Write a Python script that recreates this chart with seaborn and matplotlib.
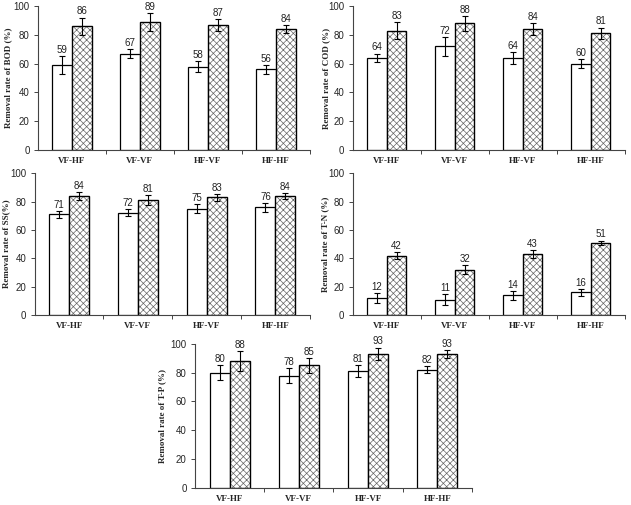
import numpy as np
import pandas as pd
import matplotlib
matplotlib.use("Agg")
import matplotlib.pyplot as plt
from matplotlib.patches import Rectangle
from matplotlib.transforms import blended_transform_factory
import seaborn as sns

# === DATA ===
configs = ["VF-HF", "VF-VF", "HF-VF", "HF-HF"]
series = ["Series A", "Series B"]

bod_a = [59, 67, 58, 56]
bod_b = [86, 89, 87, 84]
bod_a_err = [6, 3, 3.5, 3]
bod_b_err = [6, 6, 4, 3]

cod_a = [64, 72, 64, 60]
cod_b = [83, 88, 84, 81]
cod_a_err = [3, 6.5, 4, 3]
cod_b_err = [6, 5, 4, 4]

ss_a = [71, 72, 75, 76]
ss_b = [84, 81, 83, 84]
ss_a_err = [2.5, 2.5, 3, 3]
ss_b_err = [3, 3.5, 2.5, 2]

tn_a = [12, 11, 14, 16]
tn_b = [42, 32, 43, 51]
tn_a_err = [3.5, 4, 3, 2.5]
tn_b_err = [2.5, 3, 3, 1.5]

tp_a = [80, 78, 81, 82]
tp_b = [88, 85, 93, 93]
tp_a_err = [5, 5, 4, 2.5]
tp_b_err = [7, 5, 4.5, 3]

ylabels = ["Removal rate of BOD (%)", "Removal rate of COD (%)",
           "Removal rate of SS(%)", "Removal rate of T-N (%)",
           "Removal rate of T-P (%)"]

# === STYLE ===
sns.set_style("ticks")
plt.rcParams["hatch.linewidth"] = 0.5
SERIF = "Liberation Serif"
SANS = "Liberation Sans"


def draw(fig, ax, a, b, ea, eb, ylabel, label_x):
    df = pd.DataFrame({
        "config": configs * 2,
        "series": [series[0]] * 4 + [series[1]] * 4,
        "rate": a + b,
    })
    sns.barplot(data=df, x="config", y="rate", hue="series", order=configs,
                hue_order=series, palette=["white", "white"], edgecolor="black",
                linewidth=0.9, width=0.58, errorbar=None, legend=False,
                saturation=1, ax=ax)
    # hatched bars: grey cross-hatch, black outline drawn on top
    for bar in ax.containers[1]:
        bar.set_hatch("xxxxx")
        bar.set_edgecolor("#666666")
        ax.add_patch(Rectangle(bar.get_xy(), bar.get_width(), bar.get_height(),
                               fill=False, edgecolor="black", linewidth=0.9, zorder=bar.get_zorder()))
    for cont, vals, errs in zip(ax.containers, [a, b], [ea, eb]):
        xs = [p.get_x() + p.get_width() / 2 for p in cont]
        ax.errorbar(xs, vals, yerr=errs, fmt="none", ecolor="black",
                    elinewidth=0.8, capsize=2.2, capthick=0.8, zorder=5)
        for x, v, e in zip(xs, vals, errs):
            ax.text(x, v + e + 0.8, f"{v}", ha="center", va="bottom",
                    fontsize=7, family=SANS, color="#222222")

    ax.set_ylim(0, 100)
    ax.set_xlim(-0.5, 3.5)
    ax.set_yticks(range(0, 101, 20))
    ax.set_yticklabels([str(t) for t in range(0, 101, 20)], fontsize=7, family=SANS)
    ax.set_xticks(range(4))
    ax.set_xticklabels(configs, fontsize=6.5, family=SERIF, fontweight="bold")
    ax.tick_params(axis="x", length=0, pad=5)
    ax.set_xticks([0.5, 1.5, 2.5, 3.5], minor=True)
    ax.tick_params(axis="x", which="minor", length=3, width=0.7, direction="out", color="#444444")
    ax.tick_params(axis="y", length=3, width=0.7, direction="out", color="#444444", pad=3)
    ax.set_xlabel("")
    ax.set_ylabel(ylabel, fontsize=6.5, family=SERIF, fontweight="bold")
    ax.yaxis.set_label_coords(label_x, 0.5,
                              transform=blended_transform_factory(fig.transFigure, ax.transAxes))
    sns.despine(ax=ax)
    for s in ["left", "bottom"]:
        ax.spines[s].set_linewidth(0.8)
        ax.spines[s].set_color("#444444")


fig = plt.figure(figsize=(6.31, 5.05), dpi=100)

rects = [
    [0.060, 0.703, 0.431, 0.285],
    [0.559, 0.703, 0.431, 0.285],
    [0.055, 0.376, 0.436, 0.281],
    [0.559, 0.376, 0.431, 0.281],
    [0.309, 0.034, 0.439, 0.285],
]
label_xs = [0.019, 0.524, 0.016, 0.521, 0.263]
panels = [
    (bod_a, bod_b, bod_a_err, bod_b_err),
    (cod_a, cod_b, cod_a_err, cod_b_err),
    (ss_a, ss_b, ss_a_err, ss_b_err),
    (tn_a, tn_b, tn_a_err, tn_b_err),
    (tp_a, tp_b, tp_a_err, tp_b_err),
]

for rect, (a, b, ea, eb), yl, lx in zip(rects, panels, ylabels, label_xs):
    ax = fig.add_axes(rect)
    draw(fig, ax, a, b, ea, eb, yl, lx)

fig.savefig("out.png", dpi=100)
